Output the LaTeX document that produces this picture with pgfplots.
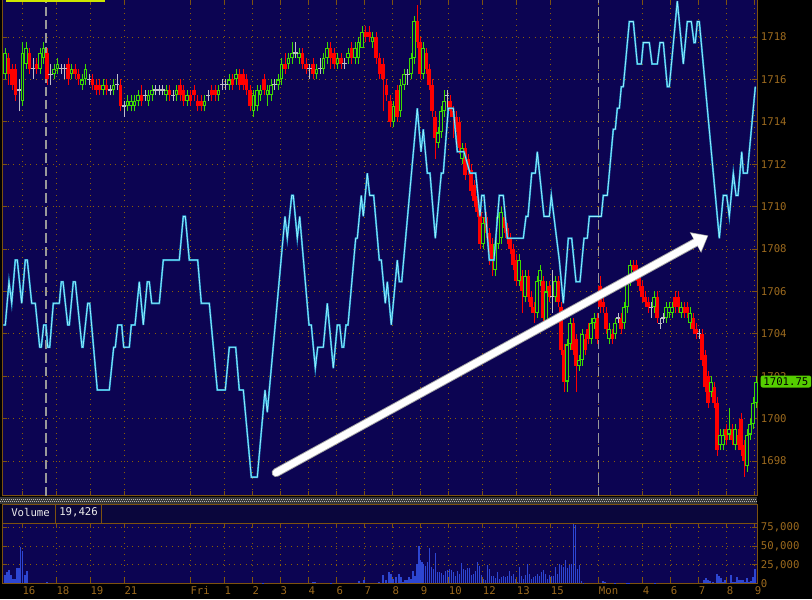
\documentclass[border=0pt]{standalone}
\usepackage{fontspec}
\usepackage{pgfplots}
\usepackage{pgfplotstable}
\pgfplotsset{compat=1.18}
\usetikzlibrary{arrows.meta}
\newfontfamily\cf{DejaVu Sans Mono}
\newcommand{\lbl}{\cf\fontsize{8}{9}\selectfont}

\definecolor{navy}{RGB}{12,4,82}
\definecolor{hdrnavy}{RGB}{10,6,60}
\definecolor{axbrown}{RGB}{125,82,15}
\definecolor{gridbrown}{RGB}{140,95,5}
\definecolor{lblbrown}{RGB}{156,106,30}
\definecolor{cred}{RGB}{255,0,0}
\definecolor{cgreen}{RGB}{60,220,0}
\definecolor{cgray}{RGB}{190,190,200}
\definecolor{cyanhalo}{RGB}{40,160,210}
\definecolor{cyanline}{RGB}{150,240,255}
\definecolor{volblue}{RGB}{45,70,210}
\definecolor{pricetag}{RGB}{85,205,0}
\definecolor{legendbar}{RGB}{205,230,0}
\definecolor{stripgray}{RGB}{55,55,55}

% x o c h l  (x in chart pixels, prices in points)
\pgfplotstableread{
x o c h l
5 1716.25 1717.25 1717.5 1716
8.5 1717 1716.25 1717.25 1715.75
12 1716.5 1715.75 1716.75 1715.5
15.5 1716.5 1715.25 1716.75 1715
19 1715.5 1715.5 1716 1714.5
22.5 1715 1717.25 1717.75 1714.75
26 1716.75 1717.5 1717.75 1716.5
29.5 1717.25 1716.5 1717.5 1716.25
33 1716.5 1716.5 1717 1716
36.5 1716.75 1716.5 1717 1716.25
40 1716.5 1717.25 1717.5 1716.25
43.5 1717 1717.5 1717.75 1716.75
47 1717.25 1716 1717.5 1715.75
50.5 1716.25 1716.25 1716.75 1715.75
54 1716.25 1716.5 1716.75 1716
57.5 1716.5 1716.75 1717 1716.25
61 1716.5 1716.5 1716.75 1716.25
64.5 1716.5 1716.5 1716.75 1716
68 1716.75 1716 1717 1715.75
71.5 1716.25 1716.5 1716.75 1716
75 1716.5 1716.25 1716.75 1716
78.5 1716.25 1716 1716.5 1715.75
82 1715.75 1716 1716.25 1715.5
85.5 1716 1716.5 1716.75 1715.75
89 1716 1716 1716.25 1715.75
92.5 1716 1715.75 1716.25 1715.5
96 1715.75 1715.5 1716 1715.25
99.5 1715.75 1715.5 1716 1715.25
103 1715.5 1715.75 1716 1715.25
106.5 1715.75 1715.5 1716 1715.25
110 1715.5 1715.5 1715.75 1715.25
113.5 1715.5 1715.75 1716 1715.25
117 1715.75 1715.75 1716.25 1715.5
120.5 1715.75 1714.75 1716 1714.5
124 1714.75 1714.75 1715 1714.25
127.5 1714.75 1715 1715.25 1714.5
131 1714.75 1715 1715.25 1714.5
134.5 1714.75 1715 1715.25 1714.5
138 1715 1715.25 1715.5 1714.75
141.5 1715.25 1715 1715.75 1714.75
145 1715.25 1715.25 1715.5 1715
148.5 1715 1715.25 1715.5 1714.75
152 1715.25 1715.5 1715.75 1715
155.5 1715.5 1715.5 1715.75 1715.25
159 1715.5 1715.5 1715.75 1715.25
162.5 1715.5 1715.5 1715.75 1715.25
166 1715.25 1715.5 1715.75 1715
169.5 1715.5 1715.25 1715.75 1715
173 1715.25 1715.25 1715.5 1715
176.5 1715.25 1715.5 1715.75 1715
180 1715.75 1715.25 1716 1715
183.5 1715.5 1715 1715.75 1714.75
187 1715 1715.25 1715.5 1714.75
190.5 1715.25 1715 1715.5 1714.75
194 1715.5 1715.25 1715.75 1715
197.5 1715 1714.75 1715.25 1714.5
201 1715 1714.75 1715.25 1714.5
204.5 1714.75 1715 1715.25 1714.5
208 1715.25 1715.25 1715.5 1715
211.5 1715.5 1715.25 1715.75 1715
215 1715.5 1715.25 1715.75 1715
218.5 1715.25 1715.5 1715.75 1715
222 1715.75 1715.75 1716 1715.5
225.5 1715.75 1715.75 1716 1715.5
229 1715.75 1716 1716.25 1715.5
232.5 1716 1715.75 1716.25 1715.5
236 1716 1716.25 1716.5 1715.75
239.5 1716.25 1715.75 1716.5 1715.5
243 1716.25 1715.75 1716.5 1715.5
246.5 1716 1715.5 1716.25 1715.25
250 1715.5 1714.75 1715.75 1714.5
253.5 1714.5 1715.25 1715.5 1714.25
257 1714.75 1715.5 1715.75 1714.5
260.5 1715.25 1715.5 1715.75 1715
264 1716 1715.5 1716.25 1715.25
267.5 1715.25 1715.5 1715.75 1714.75
271 1715.25 1715.75 1716 1715
274.5 1715.75 1715.75 1716 1715.5
278 1715.75 1716 1716.25 1715.5
281.5 1716 1716.75 1717 1715.75
285 1716.75 1716.5 1717.25 1716.25
288.5 1716.75 1717 1717.25 1716.5
292 1717 1717.25 1717.75 1716.75
295.5 1717.25 1717.25 1717.75 1717
299 1717 1717.25 1717.5 1716.75
302.5 1717.25 1716.75 1717.5 1716.5
306 1716.75 1716.5 1717 1716.25
309.5 1716.5 1716.5 1716.75 1716
313 1716.75 1716.25 1717 1716
316.5 1716.25 1716.5 1716.75 1716
320 1716.5 1716.5 1717 1716.25
323.5 1716.5 1717 1717.25 1716.25
327 1717 1717.5 1717.75 1716.75
330.5 1717.5 1717 1717.75 1716.5
334 1717.25 1716.75 1717.5 1716.5
337.5 1716.75 1717 1717.25 1716.5
341 1717 1716.75 1717.25 1716.5
344.5 1716.75 1716.75 1717 1716.5
348 1717 1717.25 1717.5 1716.75
351.5 1717.5 1717 1717.75 1716.75
355 1717 1717.5 1717.75 1716.75
358.5 1717 1717.75 1718 1716.75
362 1717.5 1718.25 1718.5 1717.5
365.5 1718.25 1718 1718.5 1717.75
369 1718.25 1718 1718.5 1717.75
372.5 1717.75 1718 1718.25 1717.5
376 1718 1717 1718.25 1716.75
379.5 1717 1716.25 1717.25 1716
383 1716.75 1716 1717 1714.5
386.5 1715.75 1715.25 1716 1715
390 1715 1714 1715.25 1713.75
393.5 1714 1714.75 1715 1713.75
397 1715.5 1714.25 1715.75 1714
400.5 1714.5 1715.75 1716 1714.25
404 1715.75 1716.25 1716.5 1715.5
407.5 1716.25 1716.25 1716.5 1715.75
411 1716.25 1717 1717.25 1716
414 1717 1718.75 1719 1716.75
417 1718.75 1717.75 1719.5 1717.5
420 1717.75 1716.25 1718 1716
423 1716.25 1717.5 1717.75 1716
426 1717.25 1716.5 1717.5 1716.25
429 1716.5 1715.75 1716.75 1715.5
432 1715.75 1714.5 1716 1714.25
435 1714.25 1713.25 1714.5 1712.25
438 1713 1713.5 1713.75 1712.75
441 1713.5 1714.5 1714.75 1713.25
444 1714.5 1715 1715.5 1714.25
447 1715.25 1715.25 1715.5 1714.5
450 1715 1714.5 1715.25 1714.25
453 1714.5 1714.25 1714.75 1713.25
456 1714.25 1713.75 1714.5 1713.5
459 1714 1712.75 1714.25 1712.5
462 1712.25 1712.75 1713 1712
465 1712.75 1711.5 1713 1711.25
468 1712.25 1711.75 1712.5 1711.5
471 1711.75 1710.75 1712 1710.5
474 1711 1710.25 1711.25 1710
477 1710.5 1709.75 1710.75 1709.5
480 1709.75 1708.25 1710 1708
483 1708.25 1709.25 1709.5 1708
486 1709.5 1708.75 1709.75 1708.5
489 1708.75 1708.25 1709 1707.25
492 1708.25 1707.5 1708.5 1706.75
495 1707 1708.25 1708.5 1706.75
498 1708.25 1709.5 1709.75 1708
501 1708.5 1709.75 1710 1708.25
504 1709.5 1709 1709.75 1708.75
507 1709 1708.5 1709.25 1708.25
510 1708.5 1708 1708.75 1707.75
513 1708 1707.25 1708.25 1707
516 1707.5 1706.5 1707.75 1706.25
519 1706.5 1707.5 1707.75 1706.25
522 1706.75 1706 1707 1705
525 1705.75 1706.75 1707 1705.5
528 1706.75 1705.75 1707 1705.5
531 1705.75 1705.25 1706 1705
534 1705.25 1705 1705.5 1704.5
537 1705 1706.5 1706.75 1704.75
540 1706.5 1707 1707.25 1706.25
543 1706.5 1704.75 1706.75 1704.5
546 1704.5 1706 1706.5 1704.25
549 1706.25 1705.75 1706.5 1705.5
552 1705.75 1705.75 1707 1705
555 1705.75 1706.5 1706.75 1705.5
558 1706.5 1705.5 1706.75 1705.25
561 1705.25 1703.25 1705.5 1703
564 1703.25 1701.75 1703.5 1701.25
567 1701.75 1703.5 1703.75 1701.25
570 1703.5 1704.5 1704.75 1703.25
573 1704.5 1703.25 1704.75 1703
576 1703.75 1702.5 1704 1701.25
579 1702.5 1702.75 1703 1702.25
582 1702.75 1704 1704.25 1702.5
585 1703.75 1703.25 1704 1703
588 1704.25 1703.75 1704.5 1703.5
591 1703.75 1704.5 1704.75 1703.5
594 1704.5 1704.75 1705 1704.25
597 1704.75 1703.75 1705 1703.5
600 1706.25 1705.25 1706.75 1705
603 1705.5 1705.25 1705.75 1705
606 1705 1704.25 1705.25 1704
609 1703.75 1704.25 1704.5 1703.5
612 1704 1703.75 1704.25 1703.5
615 1704 1704.5 1704.75 1703.75
618 1704.75 1704.75 1705 1704.5
621 1704.75 1704.25 1705 1704
624 1704.5 1705.25 1705.5 1704.25
627 1705.25 1706.5 1706.75 1705
630 1706.5 1707.25 1707.5 1706.25
633 1707.25 1707 1707.5 1706.75
636 1707.25 1706.75 1707.5 1706.5
639 1706.75 1706.25 1707 1706
642 1706.25 1705.75 1706.5 1705.5
645 1705.75 1705.5 1706 1705.25
648 1705.5 1705.25 1705.75 1705
651 1705.25 1705.25 1705.5 1704.75
654 1705.25 1705.75 1706 1705
657 1705.75 1704.75 1706 1704.5
660 1704.5 1704.5 1704.75 1704.25
663 1704.75 1704.75 1705 1704.5
666 1704.75 1705.25 1705.5 1704.5
669 1705 1705.25 1705.5 1704.75
672 1705 1705.25 1705.5 1704.75
675 1705.75 1705.25 1706 1705
678 1705.75 1705.25 1706 1705
681 1705 1705.25 1705.5 1704.75
684 1705.25 1705 1705.5 1704.75
687 1705.25 1705 1705.5 1704.75
690 1704.5 1705 1705.25 1704.25
693 1704.75 1704.25 1705 1704
696 1704.25 1704 1704.5 1703.75
699 1704 1704 1704.25 1703.75
702 1704 1702.75 1704.25 1702.5
705 1703 1701.5 1703.25 1701.25
708 1702 1700.75 1702.25 1700.5
711 1701.25 1701.75 1702 1701
714 1701.5 1700.75 1701.75 1700.5
717 1700.75 1698.5 1701 1698.25
720 1698.75 1699.25 1699.5 1698.5
723 1698.75 1699.25 1699.5 1698.5
726 1699.5 1699 1699.75 1698.75
729 1699.25 1699.5 1700.5 1699
732 1699.5 1699 1699.75 1698.75
735 1698.75 1699.5 1699.75 1698.5
738 1699.25 1698.75 1699.5 1698.5
741 1700 1698.5 1700.25 1698.25
744 1698.75 1698 1699 1697.25
747 1697.75 1699.25 1699.5 1697.5
750 1699.25 1699.75 1700 1699
753 1699.75 1700.75 1701 1699.5
756 1700.75 1701.75 1702 1700.5
}\candles

\pgfplotsset{
  down/.style={restrict expr to domain={\thisrow{c}-\thisrow{o}}{-100:-0.1}},
  up/.style={restrict expr to domain={\thisrow{c}-\thisrow{o}}{0.1:100}},
  flat/.style={restrict expr to domain={\thisrow{c}-\thisrow{o}}{-0.01:0.01}},
  stick/.style={quiver={u=0, v=\thisrow{h}-\thisrow{l}}, -, solid, mark=none,
    draw=#1, line width=0.75pt, line cap=butt},
  block/.style 2 args={quiver={u=0, v=\thisrow{c}-\thisrow{o}}, -, solid, mark=none,
    draw=#1, line width=#2, line cap=butt},
}

\begin{document}
\begin{tikzpicture}
\fill[black] (0,0) rectangle (609pt,449.25pt);

\begin{axis}[
    at={(1.5pt,77.25pt)}, anchor=south west,
    scale only axis, width=566.25pt, height=372pt,
    xmin=2, xmax=757, ymin=1696.35, ymax=1719.75,
    axis background/.style={fill=navy},
    axis line style={draw=axbrown, line width=0.75pt},
    xtick={22.3,56.3,90.3,124.3,190.3,224.3,252.3,280.3,308.3,336.3,364.3,392.3,420.7,448.7,482.7,516.7,550.7,598.7,642.7,670.7,698.7,726.7,754.7},
    xticklabels={},
    ytick={1698,1700,1702,1704,1706,1708,1710,1712,1714,1716,1718},
    yticklabels={1698,1700,1702,1704,1706,1708,1710,1712,1714,1716,1718},
    yticklabel pos=right,
    yticklabel style={anchor=west, inner sep=0pt, xshift=2.75pt, font=\lbl, text=lblbrown},
    tick align=inside, major tick length=3.75pt,
    major tick style={draw=axbrown, line width=0.75pt},
    grid=major,
    major grid style={draw=gridbrown, line width=0.75pt, dash pattern=on 0.75pt off 3.5pt},
    clip=false,
]
% session breaks
\addplot[draw=gray!80, line width=0.9pt, dash pattern=on 7pt off 3pt] coordinates {(46,1696.35) (46,1719.75)};
\addplot[draw=gray!80, line width=0.9pt, dash pattern=on 7pt off 3pt] coordinates {(598.7,1696.35) (598.7,1719.75)};

% wicks
\addplot[down, stick=cred] table[x=x, y=l] {\candles};
\addplot[up, stick=cgreen] table[x=x, y=l] {\candles};
\addplot[flat, stick=cgray] table[x=x, y=l] {\candles};
% bodies: red filled, green hollow
\addplot[down, block={cred}{2.4pt}] table[x=x, y=o] {\candles};
\addplot[up, block={cgreen}{2.4pt}] table[x=x, y=o] {\candles};
\addplot[up, quiver={u=0, v=\thisrow{c}-\thisrow{o}-0.1}, -, solid, mark=none,
  draw=navy, line width=0.8pt, line cap=butt] table[x=x, y expr=\thisrow{o}+0.05] {\candles};
\addplot[flat, only marks, solid, mark=-, mark size=1.6pt, color=cgray,
  mark options={solid, line width=0.9pt}] table[x=x, y=o] {\candles};

% indicator line
\addplot[solid, mark=none, color=cyanhalo, line width=1.4pt, postaction={draw=cyanline, line width=0.55pt}] coordinates {
(3.3,1704.42)(5.3,1704.42)(9,1706.46)(11.7,1705.44)(15.3,1707.48)(17.3,1707.48)(21.7,1705.44)
(25.3,1707.48)(27.3,1707.48)(31.7,1705.44)(35.3,1705.44)(39.7,1703.37)(41.3,1703.37)(43.7,1704.42)
(46,1704.42)(47.7,1703.37)(49.7,1703.37)(53.3,1705.44)(59.3,1705.44)(61.3,1706.46)(63,1706.46)
(67.7,1704.42)(69.3,1704.42)(73.3,1706.46)(75.3,1706.46)(82,1703.37)(83,1703.37)(87.7,1705.44)
(89.7,1705.44)(97.3,1701.35)(109.3,1701.35)(113.7,1703.37)(115.3,1703.37)(117.7,1704.42)
(121.7,1704.42)(123.7,1703.37)(129.3,1703.37)(131.3,1704.42)(135,1704.42)(139.3,1706.46)
(143.3,1704.42)(147.3,1706.46)(149.3,1706.46)(151.7,1705.44)(159.3,1705.44)(163.3,1707.48)
(179.3,1707.48)(183.3,1709.54)(185.3,1709.54)(189.3,1707.48)(197.7,1707.48)(201.3,1705.44)
(209.3,1705.44)(217.3,1701.35)(225.3,1701.35)(229.3,1703.37)(235.7,1703.37)(239.3,1701.35)
(243.3,1701.35)(251.3,1697.24)(257.3,1697.24)(265,1701.35)(267.3,1700.30)(285,1709.54)
(287.3,1708.51)(291.7,1710.53)(293.3,1710.53)(297.3,1708.51)(299.7,1709.54)(309,1704.42)
(311.3,1704.42)(315.3,1702.38)(317.7,1703.37)(323.3,1703.37)(327.3,1705.44)(333.3,1702.38)
(337.3,1704.42)(339.7,1704.42)(342,1703.37)(343.7,1703.37)(346,1704.42)(348,1704.42)
(355.7,1708.51)(357.3,1708.51)(361.3,1710.53)(363.3,1709.54)(367.3,1711.58)(369.7,1710.53)
(373.7,1710.53)(379.3,1707.48)(381.3,1707.48)(385.3,1705.44)(387.3,1706.46)(391.3,1704.42)
(397.3,1707.48)(399.3,1706.46)(401.7,1706.46)(417.3,1714.64)(421,1712.59)(423.3,1713.65)
(427.3,1711.58)(430,1711.58)(435.3,1708.51)(441.3,1711.58)(443.3,1711.58)(448.3,1714.64)
(453.3,1714.64)(457.3,1712.59)(464,1712.59)(470,1711.58)(475.7,1711.58)(480,1709.54)
(481.7,1710.53)(484,1710.53)(489.3,1707.48)(494,1707.48)(499.3,1710.53)(503.3,1710.53)
(507.3,1708.51)(523.3,1708.51)(526,1709.54)(528,1709.54)(531.7,1711.58)(535.3,1711.58)
(537.3,1712.59)(544,1709.54)(549.3,1709.54)(551.3,1710.53)(559.3,1707.48)(563.3,1705.44)
(568.3,1708.51)(571.7,1708.51)(576,1706.46)(580,1706.46)(584,1708.51)(587.3,1708.51)
(589.3,1709.54)(601.3,1709.54)(603.3,1710.53)(607.3,1710.53)(613.3,1713.65)(615.3,1713.65)
(617.3,1714.64)(619.3,1714.64)(621.3,1715.66)(623.3,1715.66)(629.3,1718.73)(633.3,1718.73)
(637.3,1716.73)(641.3,1716.73)(643.3,1717.74)(649.3,1717.74)(652,1716.73)(657.3,1716.73)
(660,1717.74)(663.3,1717.74)(667.3,1715.66)(669.3,1715.66)(677.3,1719.7)(683.3,1716.73)
(687.3,1718.73)(691.3,1718.73)(694,1717.74)(695.3,1717.74)(697.3,1718.73)(699.3,1718.73)
(719.3,1708.51)(723.3,1710.53)(726.7,1710.53)(729.3,1709.54)(733.3,1711.58)(736,1710.53)
(738,1710.53)(741.7,1712.59)(743.3,1711.58)(747.3,1711.58)(755.3,1715.66)
};

% annotation arrow
\draw[gray!70, solid, line width=6.6pt, line cap=round, -{Triangle[length=11pt,width=17pt]}]
  (axis cs:276,1697.45) -- (axis cs:708.3,1708.64);
\draw[white, solid, line width=5.2pt, line cap=round, -{Triangle[length=10pt,width=15pt]}]
  (axis cs:276,1697.45) -- (axis cs:707.5,1708.62);

% last price tag
\node[anchor=west, fill=pricetag, rounded corners=1.5pt, text=black, font=\lbl,
      inner xsep=2pt, inner ysep=0pt, minimum height=9pt, xshift=2.6pt]
  at (axis cs:757,1701.75) {1701.75};
\end{axis}

\begin{axis}[
    at={(1.5pt,11.75pt)}, anchor=south west,
    scale only axis, width=566.25pt, height=45pt,
    xmin=2, xmax=757, ymin=0, ymax=81000,
    axis background/.style={fill=navy},
    axis line style={draw=axbrown, line width=0.75pt},
    xtick={22.3,56.3,90.3,124.3,190.3,224.3,252.3,280.3,308.3,336.3,364.3,392.3,420.7,448.7,482.7,516.7,550.7,598.7,642.7,670.7,698.7,726.7,754.7},
    xticklabels={16,18,19,21,Fri,1,2,3,4,6,7,8,9,10,12,13,15,Mon,4,6,7,8,9},
    xticklabel style={anchor=north west, inner sep=0pt, yshift=-2.2pt, font=\lbl, text=lblbrown},
    ytick={0,25000,50000,75000},
    yticklabels={0,{25,000},{50,000},{75,000}},
    scaled y ticks=false,
    yticklabel pos=right,
    yticklabel style={anchor=west, inner sep=0pt, xshift=2.75pt, font=\lbl, text=lblbrown},
    tick align=inside, major tick length=3.75pt,
    major tick style={draw=axbrown, line width=0.75pt},
    grid=major,
    major grid style={draw=gridbrown, line width=0.75pt, dash pattern=on 0.75pt off 3.5pt},
]
\addplot[ycomb, solid, draw=volblue, line width=0.9pt, mark=none] coordinates {
(5,11500)(7,15000)(9,18000)(11,11500)(13,6000)(15,6000)(17,21000)(19,21000)(20.5,49000)
(22.5,43500)(25,11500)(27,16500)(47,1500)(263,1000)(313,1500)(315,1500)(331,1000)(359,3000)
(364,5000)(379,2000)(383,11500)(386,5000)(389,15000)(391,13000)(393,6000)(396,8000)(399,13000)
(401,8000)(403,2000)(405,4000)(407,5000)(409,8000)(411,6500)(413,16500)(415,10000)(417,26000)
(419,50000)(420.7,32000)(422,29000)(423.3,26000)(425.3,24000)(427.3,29000)(429.3,48000)
(431.3,22700)(433.3,19600)(435.3,41000)(437.3,15000)(439.3,15000)(441.3,14500)(443.3,11500)
(445.3,16500)(447.3,17500)(449.3,19600)(451.3,18000)(453.3,15500)(455.3,10000)(457.3,16500)
(459.3,13000)(461.3,28000)(463.3,19600)(465.3,18000)(467.3,21000)(469.3,21000)(471.3,11500)
(473.3,12000)(475.3,16500)(477.3,29000)(479.3,24000)(481.3,11500)(483.3,6000)(485.3,5000)
(487.3,25000)(489.3,19600)(491.3,10000)(493.3,10000)(495.3,7000)(497.3,15500)(499.3,6000)
(501.3,8000)(503.3,10000)(505.3,9000)(507.3,10000)(509.3,16500)(511.3,10000)(513.3,13000)
(515.3,6000)(517.3,2000)(519.3,22700)(521.3,10000)(523.3,6500)(525.3,11500)(527.3,26000)
(529.3,12000)(531.3,6500)(533.3,8000)(535.3,10000)(537.3,13000)(539.3,10000)(541.3,15000)
(543.3,18000)(545.3,13000)(547.3,6500)(549.3,11500)(551.3,10000)(553.3,10000)(555.3,22700)
(557.3,12000)(559.3,26000)(561.3,24700)(563.3,22700)(565.3,32000)(567.3,21000)(569.3,24700)
(571.3,25500)(573.3,80000)(575.3,79000)(577.3,19600)(579.3,25000)(581.3,3000)(583.3,1000)
(603,3000)(605,2000)(615,1000)(627,1000)(629,1000)(655,1000)(704,5000)(706,7000)(708,4000)
(710,3000)(713,1500)(717,13000)(719,10000)(721,7000)(723,1500)(725,5000)(731,11500)(733,2000)
(735,2000)(737,9000)(739,5000)(741,4000)(743,5000)(745,2000)(747,7000)(749,2000)(751,3000)
(753,8000)(755,19600)
};
\end{axis}

\begin{scope}[x=0.75pt, y=0.75pt]
  % separator strip
  \fill[stripgray] (0,95.5) rectangle (757,102);
  \draw[gray!60, line width=0.75pt, dash pattern=on 0.75pt off 0.75pt] (0,97.5) -- (757,97.5);
  \draw[gray!60, line width=0.75pt, dash pattern=on 0.75pt off 0.75pt, dash phase=0.75pt] (0,99.8) -- (757,99.8);
  % volume header
  \fill[hdrnavy] (2,75.7) rectangle (757,94.7);
  \draw[axbrown, line width=0.75pt] (2,75.7) -- (2,94.7) -- (757,94.7) -- (757,75.7);
  \draw[axbrown, line width=0.75pt] (55,75.7) -- (55,94.7);
  \draw[axbrown, line width=0.75pt] (101.3,75.7) -- (101.3,94.7);
  \node[anchor=west, inner sep=0pt, font=\lbl, text=white!85!gray] at (11,86.8) {Volume};
  \node[anchor=west, inner sep=0pt, font=\lbl, text=white!85!gray] at (59,86.8) {19,426};
  % legend stub at top left
  \fill[legendbar] (6,596.8) rectangle (105,599);
\end{scope}

\pgfresetboundingbox
\useasboundingbox (0,0) rectangle (609pt,449.25pt);
\end{tikzpicture}
\end{document}
